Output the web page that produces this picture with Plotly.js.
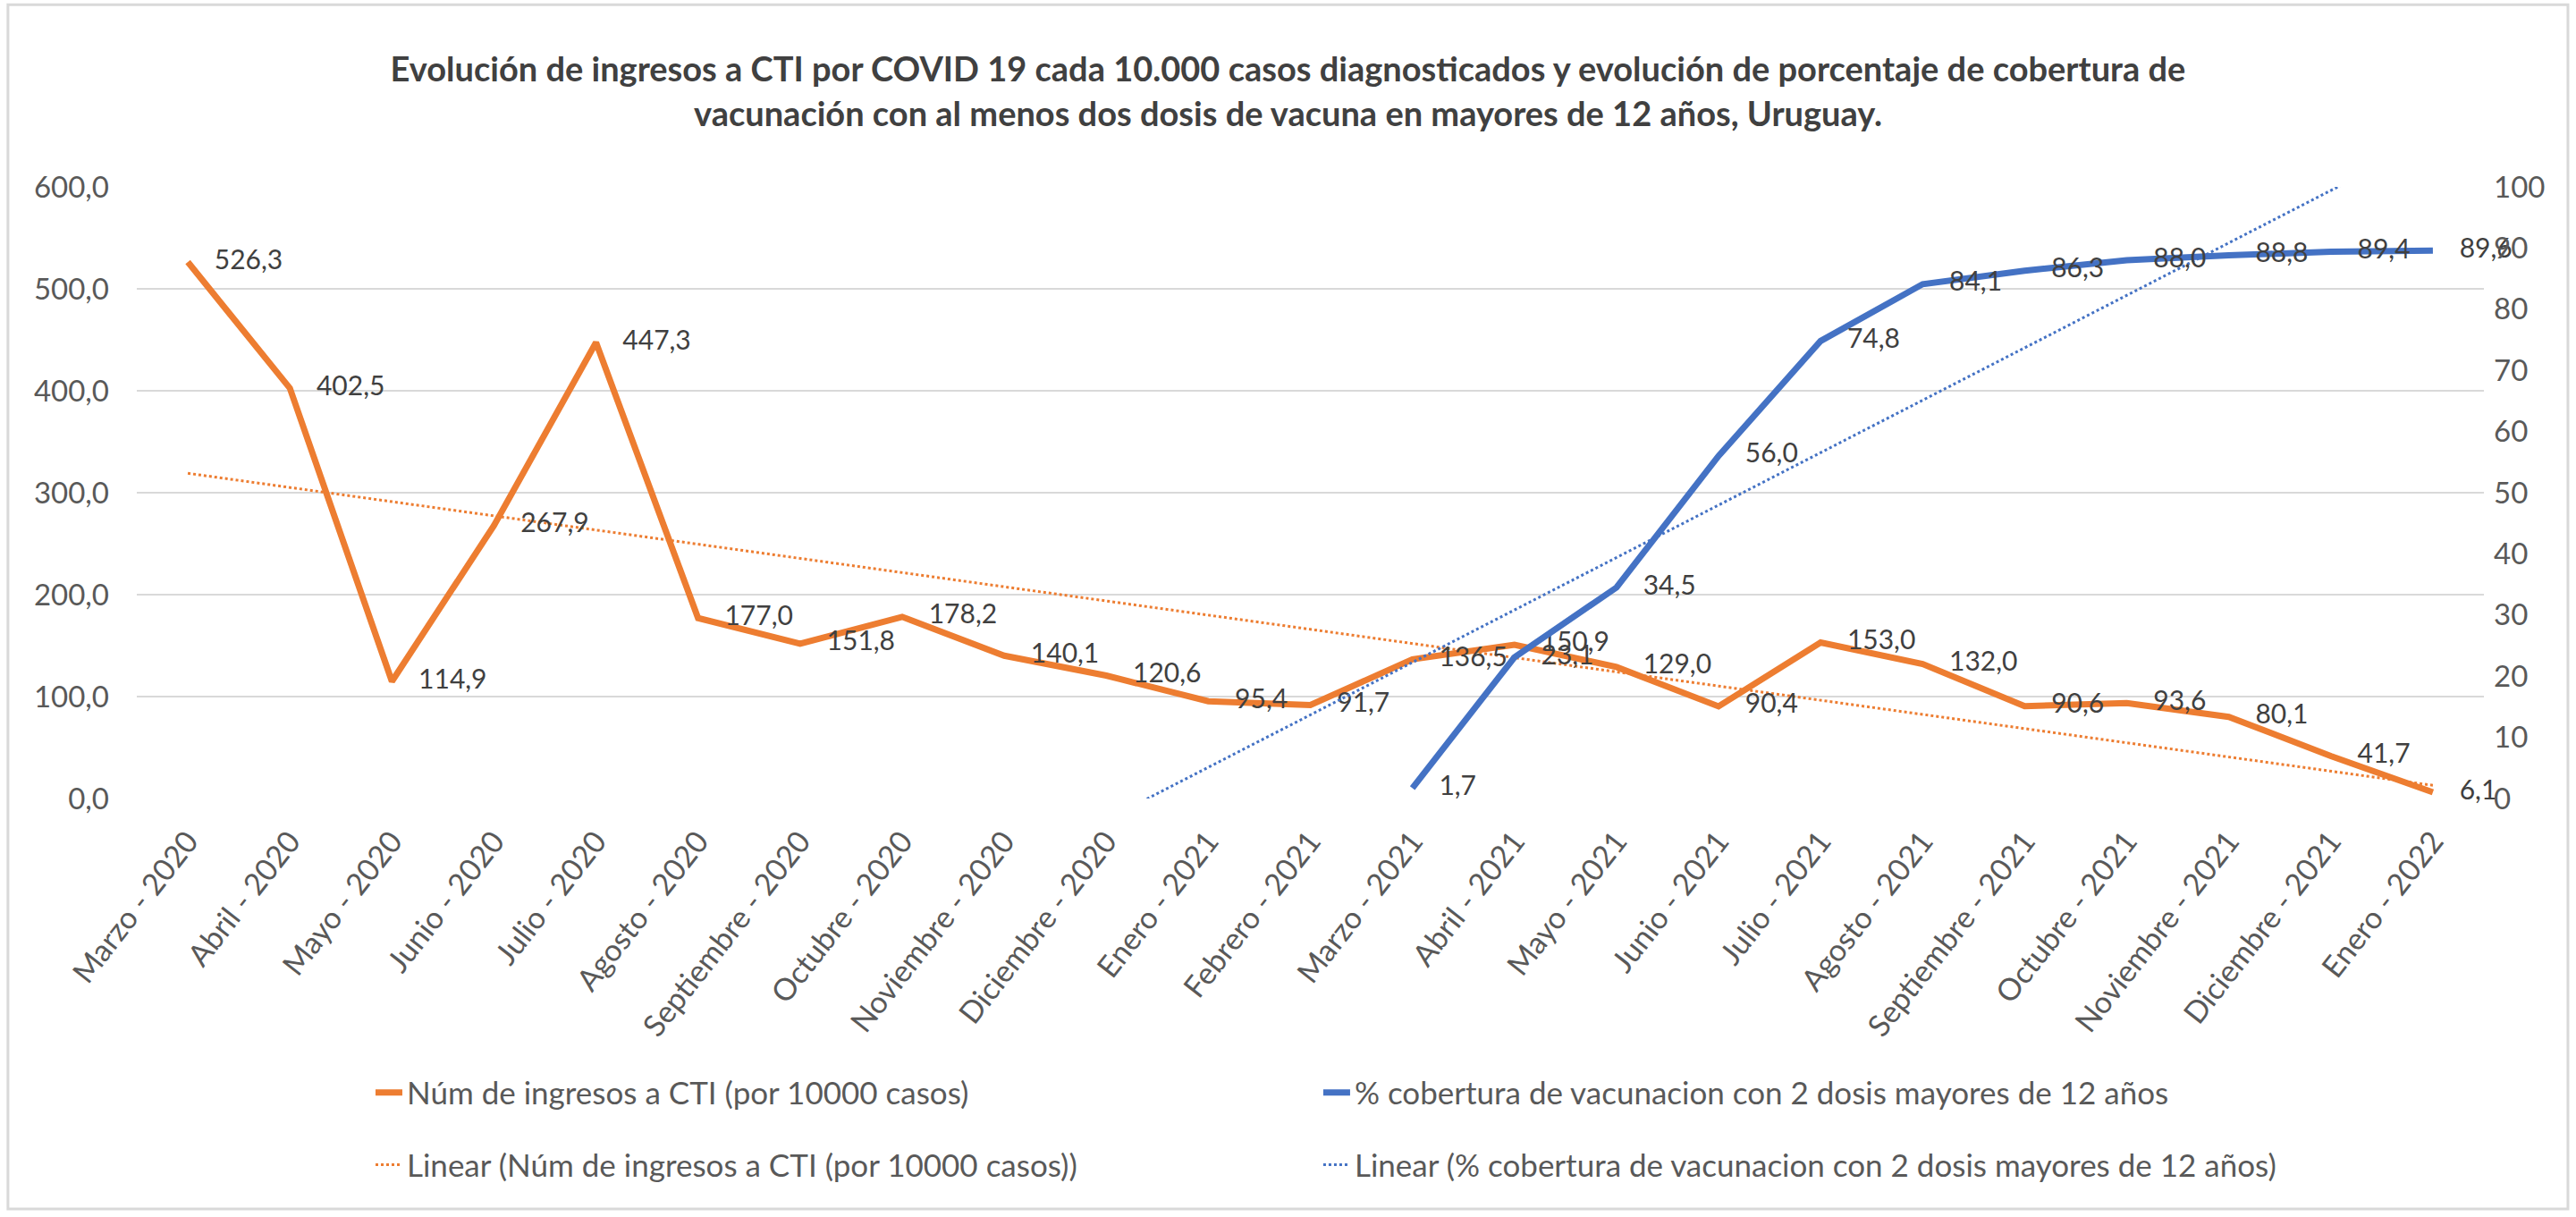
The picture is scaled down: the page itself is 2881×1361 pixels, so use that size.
<!DOCTYPE html>
<html>
<head>
<meta charset="utf-8">
<script src="https://cdn.plot.ly/plotly-3.0.1.min.js"></script>
<style>
html,body{margin:0;padding:0;background:#ffffff;}
#chart{width:2881px;height:1361px;}
</style>
</head>
<body>
<div id="chart"></div>
<script>
// ---- Data ----
const months = [
  "Marzo - 2020", "Abril - 2020", "Mayo - 2020", "Junio - 2020", "Julio - 2020",
  "Agosto - 2020", "Septiembre - 2020", "Octubre - 2020", "Noviembre - 2020", "Diciembre - 2020",
  "Enero - 2021", "Febrero - 2021", "Marzo - 2021", "Abril - 2021", "Mayo - 2021",
  "Junio - 2021", "Julio - 2021", "Agosto - 2021", "Septiembre - 2021", "Octubre - 2021",
  "Noviembre - 2021", "Diciembre - 2021", "Enero - 2022"
];
const ctiValues = [
  526.3, 402.5, 114.9, 267.9, 447.3, 177.0, 151.8, 178.2, 140.1, 120.6,
  95.4, 91.7, 136.5, 150.9, 129.0, 90.4, 153.0, 132.0, 90.6, 93.6,
  80.1, 41.7, 6.1
];
const vacMonths = [
  "Marzo - 2021", "Abril - 2021", "Mayo - 2021", "Junio - 2021", "Julio - 2021",
  "Agosto - 2021", "Septiembre - 2021", "Octubre - 2021", "Noviembre - 2021",
  "Diciembre - 2021", "Enero - 2022"
];
const vacValues = [1.7, 23.1, 34.5, 56.0, 74.8, 84.1, 86.3, 88.0, 88.8, 89.4, 89.6];

const nameCti = "Núm de ingresos a CTI (por 10000 casos)";
const nameVac = "% cobertura de vacunacion con 2 dosis mayores de 12 años";
const titleText = "Evolución de ingresos a CTI por COVID 19 cada 10.000 casos diagnosticados y evolución de porcentaje de cobertura de<br>vacunación con al menos dos dosis de vacuna en mayores de 12 años, Uruguay.";

// ---- Linear trend (least squares over category positions, like Excel) ----
function linearTrend(xCats, yVals) {
  const xs = xCats.map(c => months.indexOf(c));
  const n = xs.length;
  const mx = xs.reduce((a, b) => a + b, 0) / n;
  const my = yVals.reduce((a, b) => a + b, 0) / n;
  let sxy = 0, sxx = 0;
  for (let i = 0; i < n; i++) { sxy += (xs[i] - mx) * (yVals[i] - my); sxx += (xs[i] - mx) ** 2; }
  const slope = sxy / sxx, icpt = my - slope * mx;
  return months.map((m, i) => icpt + slope * i);
}
const ctiTrend = linearTrend(months, ctiValues);
const vacTrend = linearTrend(vacMonths, vacValues);

const ORANGE = "#ED7D31";
const BLUE = "#4472C4";
const FONT = "Lato, 'Open Sans', sans-serif";
const GRAY = "#595959";

const traces = [
  {
    x: months, y: ctiTrend, type: "scatter", mode: "lines",
    name: "Linear (" + nameCti + ")", legend: "legend3",
    line: {color: ORANGE, width: 3, dash: "dot"}, hoverinfo: "skip"
  },
  {
    x: months, y: ctiValues, type: "scatter", mode: "lines+markers+text",
    name: nameCti, legend: "legend",
    line: {color: ORANGE, width: 7},
    marker: {size: 46, color: "rgba(0,0,0,0)", line: {width: 0}},
    texttemplate: "%{y:.1f}", textposition: "middle right",
    textfont: {family: FONT, size: 30, color: "#404040"}, cliponaxis: false
  },
  {
    x: months, y: vacTrend, type: "scatter", mode: "lines", yaxis: "y2",
    name: "Linear (" + nameVac + ")", legend: "legend4",
    line: {color: BLUE, width: 3, dash: "dot"}, hoverinfo: "skip"
  },
  {
    x: vacMonths, y: vacValues, type: "scatter", mode: "lines+markers+text", yaxis: "y2",
    name: nameVac, legend: "legend2",
    line: {color: BLUE, width: 7},
    marker: {size: 46, color: "rgba(0,0,0,0)", line: {width: 0}},
    texttemplate: "%{y:.1f}", textposition: "middle right",
    textfont: {family: FONT, size: 30, color: "#404040"}, cliponaxis: false
  }
];

const legendBase = {
  orientation: "v", xanchor: "left", yanchor: "middle",
  font: {family: FONT, size: 35, color: GRAY},
  bgcolor: "rgba(0,0,0,0)", borderwidth: 0
};

const layout = {
  width: 2881, height: 1361,
  paper_bgcolor: "#ffffff", plot_bgcolor: "#ffffff",
  separators: ",.",
  margin: {l: 153, r: 103, t: 209, b: 468, autoexpand: false},
  font: {family: FONT, color: GRAY},
  title: {
    text: titleText, xref: "container", x: 0.5, xanchor: "center",
    yref: "container", y: 0.933, yanchor: "middle",
    font: {family: FONT, size: 38, color: "#404040", weight: "bold"}
  },
  xaxis: {
    type: "category", categoryorder: "array", categoryarray: months,
    range: [-0.5, months.length - 0.5],
    tickangle: -52, tickfont: {family: FONT, size: 34, color: GRAY},
    showgrid: false, zeroline: false, showline: false, ticks: "",
    ticklabelstandoff: 20
  },
  yaxis: {
    range: [0, 600], dtick: 100, tick0: 0, tickformat: ".1f",
    tickfont: {family: FONT, size: 33, color: GRAY},
    showgrid: true, gridcolor: "#D9D9D9", gridwidth: 2.5,
    zeroline: false, showline: false, ticks: "", ticklabelstandoff: 30
  },
  yaxis2: {
    overlaying: "y", side: "right",
    range: [0, 100], dtick: 10, tick0: 0, tickformat: "d",
    tickfont: {family: FONT, size: 33, color: GRAY},
    showgrid: false, zeroline: false, showline: false, ticks: "", ticklabelstandoff: 10
  },
  legend:  Object.assign({}, legendBase, {x: 0.0998, y: -0.481}),
  legend2: Object.assign({}, legendBase, {x: 0.5036, y: -0.481}),
  legend3: Object.assign({}, legendBase, {x: 0.0998, y: -0.599}),
  legend4: Object.assign({}, legendBase, {x: 0.5036, y: -0.599}),
  shapes: [{
    type: "rect", xref: "paper", yref: "paper",
    x0: -0.0549, x1: 1.0358, y0: -0.671, y1: 1.298,
    line: {color: "#D9D9D9", width: 3}, fillcolor: "rgba(0,0,0,0)", layer: "below"
  }],
  showlegend: true
};

Plotly.newPlot("chart", traces, layout, {displayModeBar: false, staticPlot: true});
</script>
</body>
</html>
